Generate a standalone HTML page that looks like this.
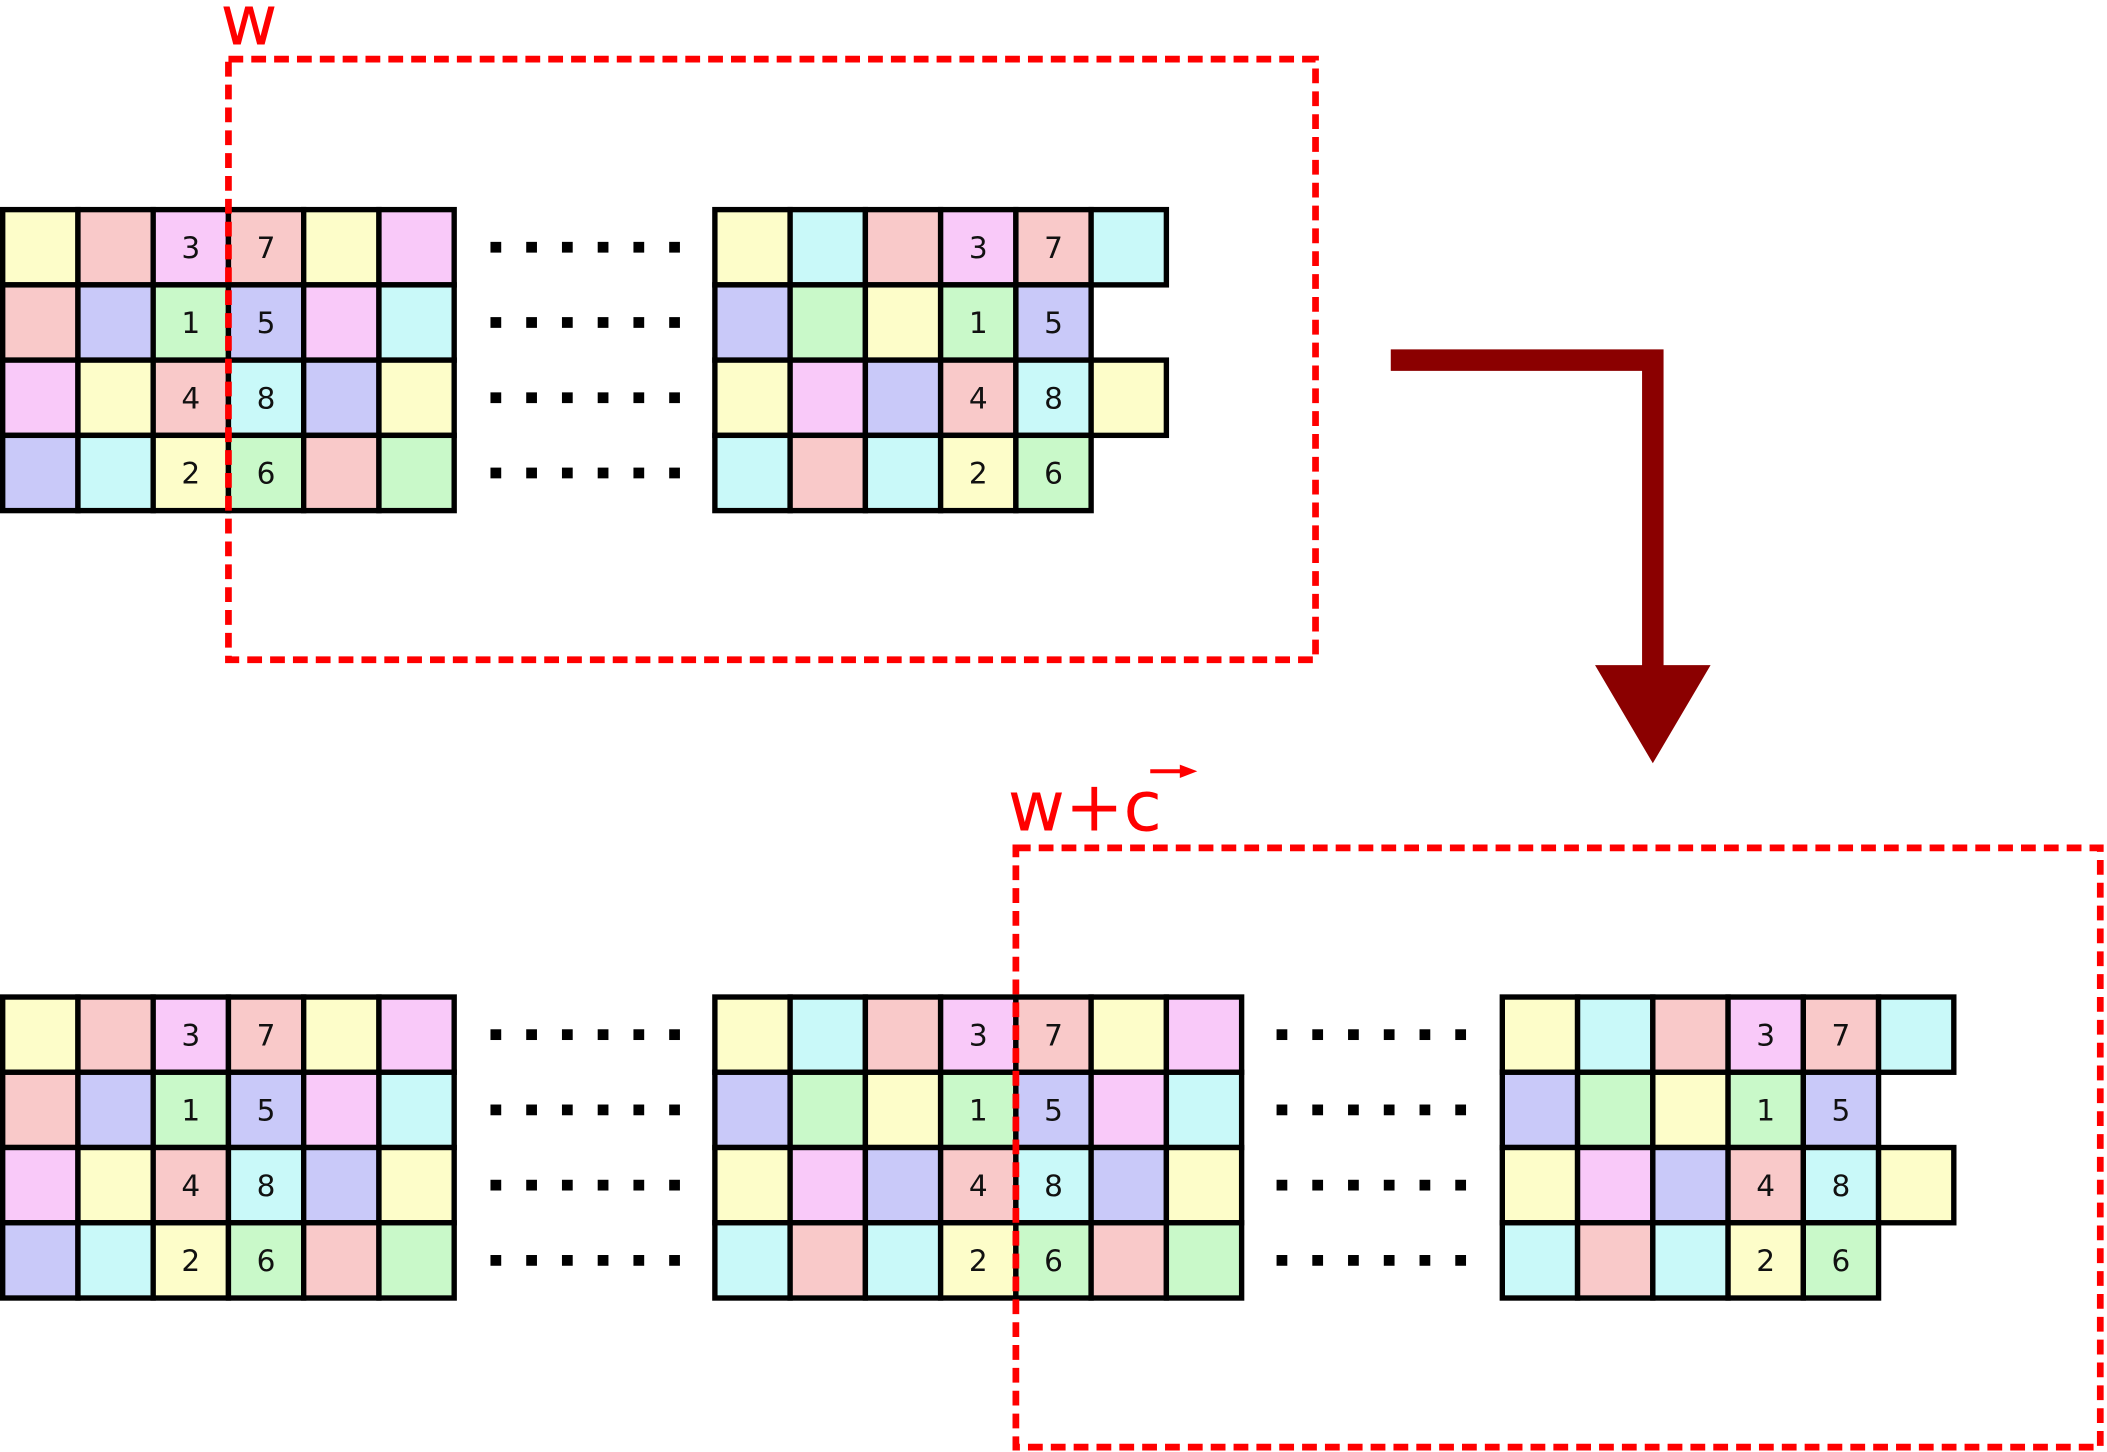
<!DOCTYPE html>
<html><head><meta charset="utf-8"><style>
html,body{margin:0;padding:0;background:#fff;}
svg{display:block;}
.y{fill:#fdfdc9}.p{fill:#f9c9c9}.m{fill:#f9c9f9}.b{fill:#c9c9f9}.c{fill:#c9f9f9}.g{fill:#c9f9c9}
rect.k{stroke:#000;stroke-width:4}
text.n{font-family:"DejaVu Sans","Liberation Sans",sans-serif;font-size:22px;fill:#111;text-anchor:middle}
.d{fill:#000}
</style></head><body>
<svg width="2107" height="1452" viewBox="0 0 1568 1080.6" preserveAspectRatio="none" xmlns="http://www.w3.org/2000/svg">
<defs>
<g id="L">
<rect class="k y" x="2" y="0" width="56" height="56"/><rect class="k p" x="58" y="0" width="56" height="56"/><rect class="k m" x="114" y="0" width="56" height="56"/><rect class="k p" x="170" y="0" width="56" height="56"/><rect class="k y" x="226" y="0" width="56" height="56"/><rect class="k m" x="282" y="0" width="56" height="56"/>
<rect class="k p" x="2" y="56" width="56" height="56"/><rect class="k b" x="58" y="56" width="56" height="56"/><rect class="k g" x="114" y="56" width="56" height="56"/><rect class="k b" x="170" y="56" width="56" height="56"/><rect class="k m" x="226" y="56" width="56" height="56"/><rect class="k c" x="282" y="56" width="56" height="56"/>
<rect class="k m" x="2" y="112" width="56" height="56"/><rect class="k y" x="58" y="112" width="56" height="56"/><rect class="k p" x="114" y="112" width="56" height="56"/><rect class="k c" x="170" y="112" width="56" height="56"/><rect class="k b" x="226" y="112" width="56" height="56"/><rect class="k y" x="282" y="112" width="56" height="56"/>
<rect class="k b" x="2" y="168" width="56" height="56"/><rect class="k c" x="58" y="168" width="56" height="56"/><rect class="k y" x="114" y="168" width="56" height="56"/><rect class="k g" x="170" y="168" width="56" height="56"/><rect class="k p" x="226" y="168" width="56" height="56"/><rect class="k g" x="282" y="168" width="56" height="56"/>
<text class="n" x="142" y="36">3</text><text class="n" x="198" y="36">7</text>
<text class="n" x="142" y="92">1</text><text class="n" x="198" y="92">5</text>
<text class="n" x="142" y="148">4</text><text class="n" x="198" y="148">8</text>
<text class="n" x="142" y="204">2</text><text class="n" x="198" y="204">6</text>
</g>
<g id="R">
<rect class="k y" x="0" y="0" width="56" height="56"/><rect class="k c" x="56" y="0" width="56" height="56"/><rect class="k p" x="112" y="0" width="56" height="56"/><rect class="k m" x="168" y="0" width="56" height="56"/><rect class="k p" x="224" y="0" width="56" height="56"/><rect class="k c" x="280" y="0" width="56" height="56"/>
<rect class="k b" x="0" y="56" width="56" height="56"/><rect class="k g" x="56" y="56" width="56" height="56"/><rect class="k y" x="112" y="56" width="56" height="56"/><rect class="k g" x="168" y="56" width="56" height="56"/><rect class="k b" x="224" y="56" width="56" height="56"/>
<rect class="k y" x="0" y="112" width="56" height="56"/><rect class="k m" x="56" y="112" width="56" height="56"/><rect class="k b" x="112" y="112" width="56" height="56"/><rect class="k p" x="168" y="112" width="56" height="56"/><rect class="k c" x="224" y="112" width="56" height="56"/><rect class="k y" x="280" y="112" width="56" height="56"/>
<rect class="k c" x="0" y="168" width="56" height="56"/><rect class="k p" x="56" y="168" width="56" height="56"/><rect class="k c" x="112" y="168" width="56" height="56"/><rect class="k y" x="168" y="168" width="56" height="56"/><rect class="k g" x="224" y="168" width="56" height="56"/>
<text class="n" x="196" y="36">3</text><text class="n" x="252" y="36">7</text>
<text class="n" x="196" y="92">1</text><text class="n" x="252" y="92">5</text>
<text class="n" x="196" y="148">4</text><text class="n" x="252" y="148">8</text>
<text class="n" x="196" y="204">2</text><text class="n" x="252" y="204">6</text>
</g>
<g id="D">
<rect class="d" x="0" y="0" width="8" height="8"/><rect class="d" x="26.6" y="0" width="8" height="8"/><rect class="d" x="53.2" y="0" width="8" height="8"/><rect class="d" x="79.8" y="0" width="8" height="8"/><rect class="d" x="106.4" y="0" width="8" height="8"/><rect class="d" x="133" y="0" width="8" height="8"/>
<rect class="d" x="0" y="56" width="8" height="8"/><rect class="d" x="26.6" y="56" width="8" height="8"/><rect class="d" x="53.2" y="56" width="8" height="8"/><rect class="d" x="79.8" y="56" width="8" height="8"/><rect class="d" x="106.4" y="56" width="8" height="8"/><rect class="d" x="133" y="56" width="8" height="8"/>
<rect class="d" x="0" y="112" width="8" height="8"/><rect class="d" x="26.6" y="112" width="8" height="8"/><rect class="d" x="53.2" y="112" width="8" height="8"/><rect class="d" x="79.8" y="112" width="8" height="8"/><rect class="d" x="106.4" y="112" width="8" height="8"/><rect class="d" x="133" y="112" width="8" height="8"/>
<rect class="d" x="0" y="168" width="8" height="8"/><rect class="d" x="26.6" y="168" width="8" height="8"/><rect class="d" x="53.2" y="168" width="8" height="8"/><rect class="d" x="79.8" y="168" width="8" height="8"/><rect class="d" x="106.4" y="168" width="8" height="8"/><rect class="d" x="133" y="168" width="8" height="8"/>
</g>
</defs>

<!-- top row -->
<use href="#L" x="0" y="156"/>
<use href="#D" x="365" y="180"/>
<use href="#R" x="532" y="156"/>

<!-- bottom row -->
<use href="#L" x="0" y="742"/>
<use href="#D" x="365" y="766"/>
<g transform="translate(532,742)">
<rect class="k y" x="0" y="0" width="56" height="56"/><rect class="k c" x="56" y="0" width="56" height="56"/><rect class="k p" x="112" y="0" width="56" height="56"/><rect class="k m" x="168" y="0" width="56" height="56"/><rect class="k p" x="224" y="0" width="56" height="56"/><rect class="k y" x="280" y="0" width="56" height="56"/><rect class="k m" x="336" y="0" width="56" height="56"/>
<rect class="k b" x="0" y="56" width="56" height="56"/><rect class="k g" x="56" y="56" width="56" height="56"/><rect class="k y" x="112" y="56" width="56" height="56"/><rect class="k g" x="168" y="56" width="56" height="56"/><rect class="k b" x="224" y="56" width="56" height="56"/><rect class="k m" x="280" y="56" width="56" height="56"/><rect class="k c" x="336" y="56" width="56" height="56"/>
<rect class="k y" x="0" y="112" width="56" height="56"/><rect class="k m" x="56" y="112" width="56" height="56"/><rect class="k b" x="112" y="112" width="56" height="56"/><rect class="k p" x="168" y="112" width="56" height="56"/><rect class="k c" x="224" y="112" width="56" height="56"/><rect class="k b" x="280" y="112" width="56" height="56"/><rect class="k y" x="336" y="112" width="56" height="56"/>
<rect class="k c" x="0" y="168" width="56" height="56"/><rect class="k p" x="56" y="168" width="56" height="56"/><rect class="k c" x="112" y="168" width="56" height="56"/><rect class="k y" x="168" y="168" width="56" height="56"/><rect class="k g" x="224" y="168" width="56" height="56"/><rect class="k p" x="280" y="168" width="56" height="56"/><rect class="k g" x="336" y="168" width="56" height="56"/>
<text class="n" x="196" y="36">3</text><text class="n" x="252" y="36">7</text>
<text class="n" x="196" y="92">1</text><text class="n" x="252" y="92">5</text>
<text class="n" x="196" y="148">4</text><text class="n" x="252" y="148">8</text>
<text class="n" x="196" y="204">2</text><text class="n" x="252" y="204">6</text>
</g>
<use href="#D" x="950" y="766"/>
<use href="#R" x="1118" y="742"/>

<!-- red dashed boxes -->
<rect x="170" y="44" width="809" height="447" fill="none" stroke="#ff0000" stroke-width="5" stroke-dasharray="11,6"/>
<rect x="756" y="631" width="807" height="446" fill="none" stroke="#ff0000" stroke-width="5" stroke-dasharray="11,6"/>
<text x="164" y="33" font-family="DejaVu Sans, Liberation Sans, sans-serif" font-size="52" fill="#ff0000">w</text>
<text x="750" y="618" font-family="DejaVu Sans, Liberation Sans, sans-serif" font-size="52" fill="#ff0000">w+c</text>
<line x1="856" y1="574" x2="882" y2="574" stroke="#ff0000" stroke-width="3"/>
<polygon points="878,569 891,574 878,579" fill="#ff0000"/>

<!-- arrow -->
<polygon points="1035,260 1238,260 1238,495 1273,495 1230,568 1187,495 1222,495 1222,276 1035,276" fill="#8b0000"/>
</svg>
</body></html>
